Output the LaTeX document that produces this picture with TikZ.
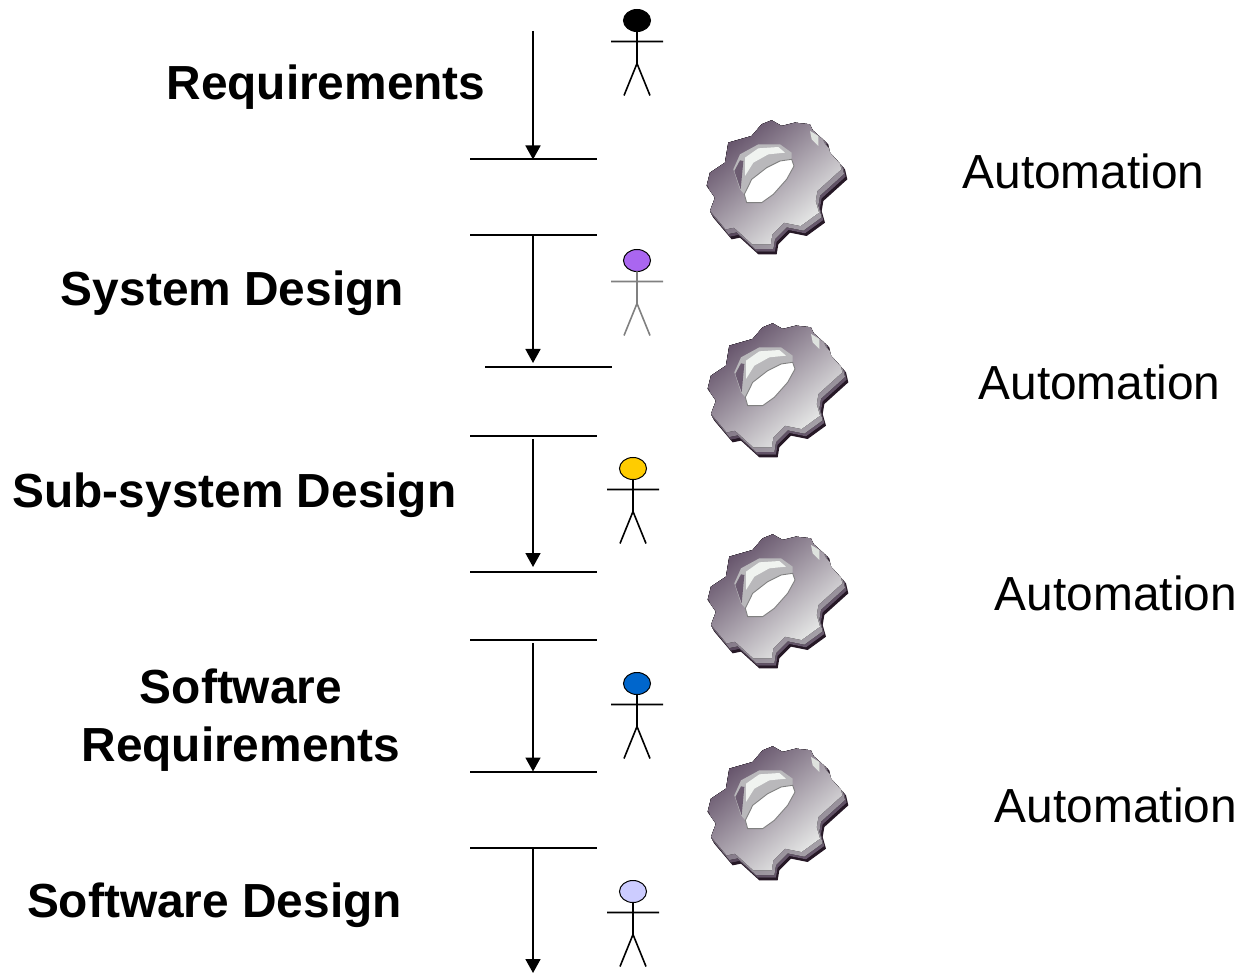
\documentclass[tikz,border=0pt]{standalone}
\usepackage{fontspec}
\setmainfont{Liberation Sans}
\usetikzlibrary{arrows.meta}
\newcommand{\gearoutline}{(245,28) -- (275,45) -- (315,35) -- (360,40) -- (368,58) -- (415,100) -- (420,125) -- (465,175) -- (472,205) -- (400,270) -- (395,300) -- (405,335) -- (350,375) -- (300,365) -- (265,400) -- (260,430) -- (205,430) -- (150,380) -- (125,385) -- (70,320) -- (60,300) -- (75,260) -- (50,225) -- (60,185) -- (105,155) -- (115,95) -- (185,75) -- (215,40) -- cycle}
\newcommand{\gearhole}{(305,145) -- (312,165) -- (290,205) -- (250,250) -- (215,275) -- (170,275) -- (163,250) -- (185,205) -- (230,170) -- (270,150) -- cycle}
\definecolor{gDark}{RGB}{38,24,38}
\definecolor{gPlumA}{RGB}{62,44,66}
\definecolor{gPlumB}{RGB}{86,66,92}
\definecolor{gMid}{RGB}{140,132,144}
\definecolor{gLight}{RGB}{222,226,222}
\definecolor{gWhite}{RGB}{240,243,240}
\tikzset{
  x=1pt,y=-1pt,
  label text/.style={inner sep=0pt,anchor=base,font=\fontsize{47.85}{48}\selectfont},
  bold text/.style={label text,font=\fontsize{47.85}{48}\selectfont\bfseries},
  bar/.style={line width=2pt,black},
  flow/.style={line width=1.7pt,black,-{Triangle[length=14pt,width=15pt]}},
  actor/.pic={
    \fill[pic actions,draw=black,line width=1pt] (0,-21) ellipse [x radius=13.5,y radius=11];
    \draw[line width=1.6pt,draw=\tikzpictextoptions] (0,-10) -- (0,22) (-26,0) -- (26,0) (-13,54) -- (0,22) -- (13,54);
  },
  gearpic/.pic={
    \begin{scope}[scale=1/3]
      \fill[gDark] \gearoutline;
      \begin{scope}
        \clip \gearoutline;
        \fill[shift={(-5,-8)},left color=gPlumA,right color=gPlumB!60!gMid,shading angle=40] \gearoutline;
        \fill[shift={(-10,-16)},left color=gPlumB,middle color=gMid,right color=gMid!60!gLight,shading angle=40] \gearoutline;
        \fill[shift={(-18,-30)},left color=gPlumB,middle color=gMid!55!gLight,right color=gWhite,shading angle=40] \gearoutline;
        \fill[gMid!45!gLight]
          (130,175) -- (150,130) -- (205,100) -- (270,100) -- (305,125) -- (305,145) -- (270,150) -- (230,170) -- (185,205) -- (163,250) -- (150,235) -- cycle;
        \fill[gWhite] (165,140) -- (205,112) -- (265,108) -- (285,125) -- (235,130) -- (190,155) -- (165,195) -- cycle;
        \fill[gPlumB!60!gMid] (133,180) -- (150,148) -- (160,150) -- (152,235) -- cycle;
        \fill[gLight] (360,60) -- (385,75) -- (385,105) -- (365,85) -- cycle;
      \end{scope}
      \fill[white] \gearhole;
      \draw[gray,line width=0.9pt] \gearhole;
    \end{scope}
  }
}
\begin{document}
\begin{tikzpicture}
\useasboundingbox (0,0) rectangle (1242,973);
\definecolor{hA}{RGB}{0,0,0}
\definecolor{hB}{RGB}{170,102,240}
\definecolor{hC}{RGB}{255,204,0}
\definecolor{hD}{RGB}{0,102,204}
\definecolor{hE}{RGB}{204,204,255}
\definecolor{armgray}{RGB}{128,128,128}

\node[bold text] (t1) at (326,99.5) {Requirements};
\node[bold text] (t2) at (232.5,305.5) {System Design};
\node[bold text] (t3) at (234.5,507.5) {Sub-system Design};
\node[bold text] (t4) at (241,703.5) {Software};
\node[bold text] (t5) at (241,761.5) {Requirements};
\node[bold text] (t6) at (214.5,917.5) {Software Design};

\node[label text] (u1) at (1083.5,188.5) {Automation};
\node[label text] (u2) at (1099.5,399.5) {Automation};
\node[label text] (u3) at (1116,610.5) {Automation};
\node[label text] (u4) at (1116,822.5) {Automation};

\foreach \n/\y/\l/\r in {1/159.5/470/597,2/235.5/470/597,3/367.5/485/612,4/435.5/470/597,5/571.5/470/597,6/639.5/470/597,7/771.5/470/597,8/847.5/470/597}{
  \coordinate (bl\n) at (\l,\y);
  \coordinate (br\n) at (\r,\y);
  \draw[bar] (bl\n) -- (br\n);
}
\foreach \n/\s/\e in {1/31/159.5,2/235/363,3/439/567,4/643/771.5,5/847/973}{
  \coordinate (as\n) at (533,\s);
  \coordinate (ae\n) at (533,\e);
  \draw[flow] (as\n) -- (ae\n);
}

\pic[fill=hA,pic text=black] (p1) at (637,41.5) {actor};
\pic[fill=hB,pic text=armgray,draw=armgray] (p2) at (637,281.5) {actor};
\pic[fill=hC,pic text=black] (p3) at (633,489.5) {actor};
\pic[fill=hD,pic text=black] (p4) at (637,704.5) {actor};
\pic[fill=hE,pic text=black] (p5) at (633,912.5) {actor};

\pic (g1) at (690,111) {gearpic};
\pic (g2) at (691,314) {gearpic};
\pic (g3) at (691,525) {gearpic};
\pic (g4) at (691,737) {gearpic};
\end{tikzpicture}
\end{document}
